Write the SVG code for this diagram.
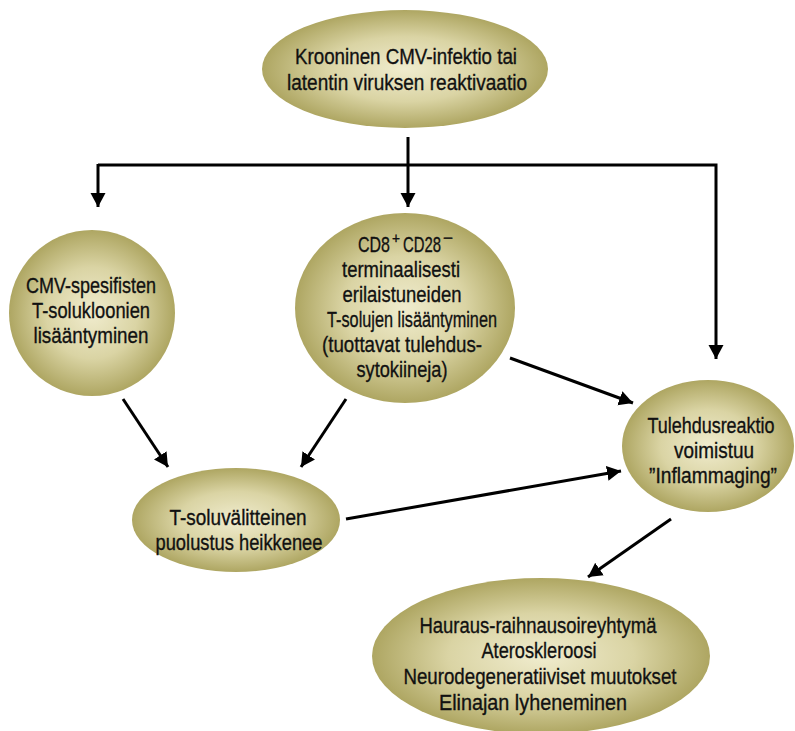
<svg xmlns="http://www.w3.org/2000/svg" width="795" height="731" viewBox="0 0 795 731">
<defs>
<radialGradient id="g" cx="50%" cy="50%" r="50%">
<stop offset="0" stop-color="#f0ecce"/>
<stop offset="0.55" stop-color="#dad4a4"/>
<stop offset="1" stop-color="#aea662"/>
</radialGradient>
<marker id="ah" markerUnits="userSpaceOnUse" markerWidth="15" markerHeight="16" refX="14" refY="8" orient="auto" viewBox="0 0 15 16">
<path d="M0,0.5 L14,8 L0,15.5 z" fill="#000"/>
</marker>
<style>
.n{fill:url(#g);stroke:none}
text{font-family:"Liberation Sans",Arial,sans-serif;font-size:22.5px;fill:#111;stroke:#111;stroke-width:0.35;text-anchor:middle}
text.s{text-anchor:start}
text.sup{text-anchor:start;font-size:15px}
.c line,.c polyline{stroke:#000;stroke-width:3;fill:none}
</style>
</defs>
<rect width="795" height="731" fill="#fff"/>
<g class="c" id="connectors">
<line x1="408" y1="137" x2="408" y2="207" marker-end="url(#ah)"/>
<polyline points="98,165 716,165 716,359" marker-end="url(#ah)"/>
<line x1="98" y1="164" x2="98" y2="207" marker-end="url(#ah)"/>
<line x1="123" y1="399" x2="168" y2="467" marker-end="url(#ah)"/>
<line x1="346" y1="399" x2="301" y2="467" marker-end="url(#ah)"/>
<line x1="510" y1="358" x2="633" y2="403" marker-end="url(#ah)"/>
<line x1="346" y1="519" x2="621" y2="471" marker-end="url(#ah)"/>
<line x1="671" y1="519" x2="588" y2="577" marker-end="url(#ah)"/>
</g>
<g id="n1">
<ellipse class="n" cx="405" cy="69" rx="143" ry="59"/>
<text x="406" y="64" textLength="222" lengthAdjust="spacingAndGlyphs">Krooninen CMV-infektio tai</text>
<text x="407" y="90" textLength="240" lengthAdjust="spacingAndGlyphs">latentin viruksen reaktivaatio</text>
</g>
<g id="n2">
<ellipse class="n" cx="92" cy="313" rx="83" ry="83"/>
<text x="91" y="293" textLength="130" lengthAdjust="spacingAndGlyphs">CMV-spesifisten</text>
<text x="91" y="318" textLength="118" lengthAdjust="spacingAndGlyphs">T-solukloonien</text>
<text x="91" y="343" textLength="115" lengthAdjust="spacingAndGlyphs">lisääntyminen</text>
</g>
<g id="n3">
<ellipse class="n" cx="405" cy="308" rx="110" ry="95"/>
<text class="s" x="358" y="252" textLength="32" lengthAdjust="spacingAndGlyphs">CD8</text>
<text class="sup" x="392" y="243" textLength="8" lengthAdjust="spacingAndGlyphs">+</text>
<text class="s" x="403" y="252" textLength="38" lengthAdjust="spacingAndGlyphs">CD28</text>
<text class="sup" x="443" y="243" textLength="10" lengthAdjust="spacingAndGlyphs">−</text>
<text x="401" y="277" textLength="118" lengthAdjust="spacingAndGlyphs">terminaalisesti</text>
<text x="402" y="302" textLength="119" lengthAdjust="spacingAndGlyphs">erilaistuneiden</text>
<text x="412" y="327" textLength="170" lengthAdjust="spacingAndGlyphs">T-solujen lisääntyminen</text>
<text x="402" y="352" textLength="160" lengthAdjust="spacingAndGlyphs">(tuottavat tulehdus-</text>
<text x="402" y="377" textLength="91" lengthAdjust="spacingAndGlyphs">sytokiineja)</text>
</g>
<g id="n4">
<ellipse class="n" cx="708" cy="446" rx="86" ry="66"/>
<text x="711" y="433" textLength="127" lengthAdjust="spacingAndGlyphs">Tulehdusreaktio</text>
<text x="714" y="458" textLength="80" lengthAdjust="spacingAndGlyphs">voimistuu</text>
<text x="713" y="483" textLength="128" lengthAdjust="spacingAndGlyphs">”Inflammaging”</text>
</g>
<g id="n5">
<ellipse class="n" cx="236" cy="520" rx="104" ry="52"/>
<text x="238" y="525" textLength="137" lengthAdjust="spacingAndGlyphs">T-soluvälitteinen</text>
<text x="239" y="550" textLength="167" lengthAdjust="spacingAndGlyphs">puolustus heikkenee</text>
</g>
<g id="n6">
<ellipse class="n" cx="541" cy="656" rx="169" ry="78"/>
<text x="538" y="633" textLength="237" lengthAdjust="spacingAndGlyphs">Hauraus-raihnausoireyhtymä</text>
<text x="539" y="658" textLength="115" lengthAdjust="spacingAndGlyphs">Ateroskleroosi</text>
<text x="540" y="684" textLength="273" lengthAdjust="spacingAndGlyphs">Neurodegeneratiiviset muutokset</text>
<text x="533" y="710" textLength="188" lengthAdjust="spacingAndGlyphs">Elinajan lyheneminen</text>
</g>
</svg>
